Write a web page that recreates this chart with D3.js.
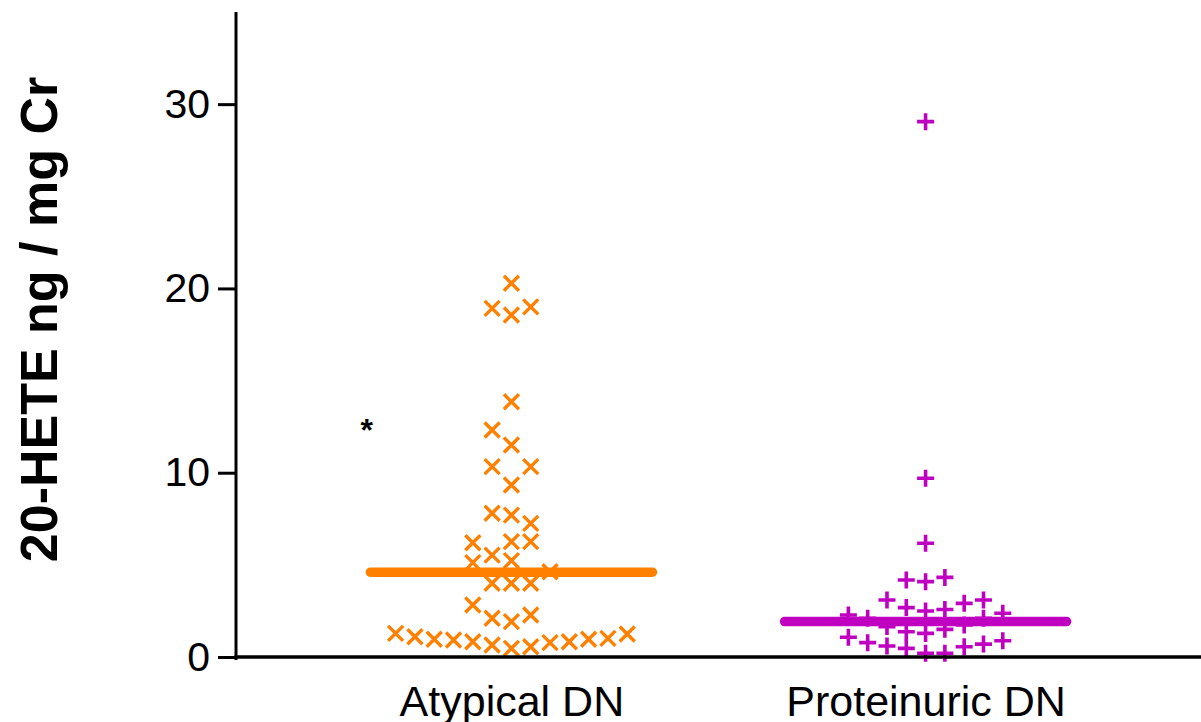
<!DOCTYPE html>
<html>
<head>
<meta charset="utf-8">
<script src="https://cdn.jsdelivr.net/npm/d3@7/dist/d3.min.js"></script>
<style>
  html, body { margin: 0; padding: 0; background: #fff; }
  svg { display: block; }
  text { font-family: "Liberation Sans", Arial, sans-serif; fill: #000; }
</style>
</head>
<body>
<svg id="chart" width="1201" height="722"></svg>
<script>
// ---- data ----
const categories = ["Atypical DN", "Proteinuric DN"];
const yTicks = [0, 10, 20, 30];
const yLabel = "20-HETE ng / mg Cr";

const atypicalValues = [20.28, 18.92, 18.56, 19.0, 13.85, 12.32, 11.5, 10.33, 10.33, 9.33,
  7.8, 7.7, 7.25, 6.2, 6.26, 6.26, 5.53, 5.12, 5.23, 4.63, 4.0, 4.0, 4.0,
  2.82, 2.1, 1.92, 2.28, 1.28, 1.1, 0.96, 0.92, 0.83, 0.65, 0.47, 0.56, 0.78, 0.83, 0.96, 1.01, 1.25];
const atypicalSlots = [0, -1, 0, 1, 0, -1, 0, -1, 1, 0,
  -1, 0, 1, -2, 0, 1, -1, -2, 0, 2, -1, 0, 1,
  -2, -1, 0, 1, -6, -5, -4, -3, -2, -1, 0, 1, 2, 3, 4, 5, 6];

const proteinuricValues = [29.05, 9.7, 6.17, 4.18, 4.09, 4.32, 3.09, 2.91, 3.09, 2.68,
  2.5, 2.58, 2.28, 2.1, 2.37, 2.1, 1.65, 1.37, 1.28, 1.5, 1.74,
  1.07, 0.78, 0.6, 0.47, 0.2, 0.2, 0.56, 0.7, 0.88];
const proteinuricSlots = [0, 0, 0, -1, 0, 1, -2, 2, 3, -1,
  0, 1, -4, -3, 4, 3, -2, -1, 0, 1, 2,
  -4, -3, -2, -1, 0, 1, 2, 3, 4];

const medians = [4.6, 1.92];
const seriesColors = ["#FF8000", "#C000C0"];
const significance = { category: "Atypical DN", slot: -7.5, value: 12.5, text: "*" };

// ---- layout ----
const svg = d3.select("#chart");
const W = 1201, H = 722;
const axisX = 236, y0 = 657, yTop = 12;

const x = d3.scalePoint().domain(categories).range([axisX, W]).padding(0.665);
const y = d3.scaleLinear().domain([0, 35]).range([y0, yTop]);
const slot = d3.scaleLinear().domain([-1, 1]).range([-19.3, 19.3]);
const medianHalf = 141;

const groups = [
  { cat: categories[0], values: atypicalValues, slots: atypicalSlots, shape: "x", color: seriesColors[0], median: medians[0] },
  { cat: categories[1], values: proteinuricValues, slots: proteinuricSlots, shape: "+", color: seriesColors[1], median: medians[1] }
];

// points
groups.forEach(g => {
  const pts = g.values.map((v, i) => ({ v, s: g.slots[i] }));
  const sel = svg.append("g").selectAll("path").data(pts).join("path")
    .attr("transform", d => `translate(${x(g.cat) + slot(d.s)},${y(d.v)})`)
    .attr("fill", "none")
    .attr("stroke", g.color)
    .attr("stroke-linecap", "butt");
  if (g.shape === "x") {
    sel.attr("d", "M-7.5,-7.5L7.5,7.5M-7.5,7.5L7.5,-7.5").attr("stroke-width", 3.4);
  } else {
    sel.attr("d", "M-8.5,0L8.5,0M0,-8.5L0,8.5").attr("stroke-width", 3.6);
  }
});

// medians
svg.append("g").selectAll("line").data(groups).join("line")
  .attr("x1", d => x(d.cat) - medianHalf)
  .attr("x2", d => x(d.cat) + medianHalf)
  .attr("y1", d => y(d.median))
  .attr("y2", d => y(d.median))
  .attr("stroke", d => d.color)
  .attr("stroke-width", 9.5)
  .attr("stroke-linecap", "round");

// y axis
const yAxis = d3.axisLeft(y).tickValues(yTicks).tickSize(18).tickPadding(8).tickFormat(d3.format("d"));
const yg = svg.append("g").attr("transform", `translate(${axisX},0)`).call(yAxis);
yg.select(".domain").remove();
yg.selectAll(".tick line").attr("stroke", "#000").attr("stroke-width", 3);
yg.selectAll(".tick text").attr("font-size", 41).attr("font-family", "Liberation Sans, Arial, sans-serif").attr("fill", "#000");
svg.append("line").attr("x1", axisX).attr("x2", axisX).attr("y1", y(35)).attr("y2", y0 + 3)
  .attr("stroke", "#000").attr("stroke-width", 3);

// x axis
const xAxis = d3.axisBottom(x).tickSize(0).tickPadding(0);
const xg = svg.append("g").attr("transform", `translate(0,${y0})`).call(xAxis);
xg.select(".domain").remove();
xg.selectAll(".tick text").attr("font-size", 43).attr("font-family", "Liberation Sans, Arial, sans-serif")
  .attr("fill", "#000").attr("dy", null).attr("y", 59);
svg.append("line").attr("x1", axisX - 1.5).attr("x2", W).attr("y1", y0).attr("y2", y0)
  .attr("stroke", "#000").attr("stroke-width", 3.5);

// significance marker
svg.append("text")
  .attr("x", x(significance.category) + slot(significance.slot))
  .attr("y", y(significance.value) + 14)
  .attr("text-anchor", "middle")
  .attr("font-size", 32)
  .attr("font-weight", "bold")
  .text(significance.text);

// y label
svg.append("text")
  .attr("transform", `translate(57,${(y(0) + y(35)) / 2 - 15}) rotate(-90)`)
  .attr("text-anchor", "middle")
  .attr("font-size", 52)
  .attr("font-weight", "bold")
  .text(yLabel);
</script>
</body>
</html>
